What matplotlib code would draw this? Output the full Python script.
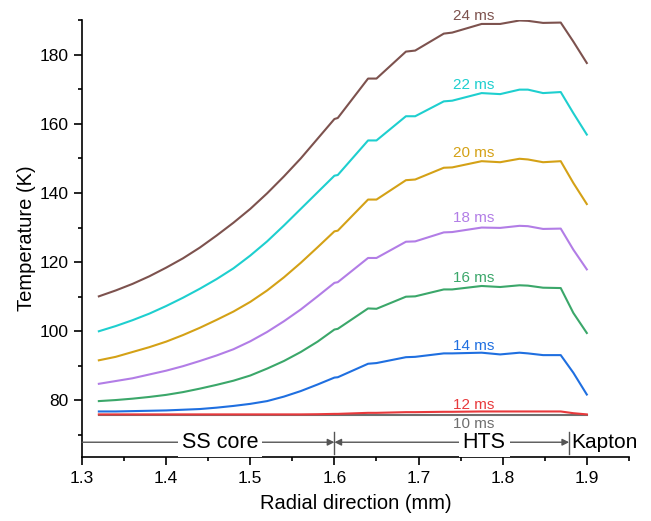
import matplotlib
matplotlib.use('Agg')
import matplotlib.pyplot as plt
from matplotlib.ticker import MultipleLocator

plt.rcParams['font.family'] = ['Liberation Sans', 'DejaVu Sans']

# radial positions (mm)
radius = [1.32, 1.34, 1.36, 1.38, 1.40, 1.42, 1.44, 1.46, 1.48, 1.50, 1.52, 1.54,
          1.56, 1.58, 1.60,
          1.604, 1.64, 1.65, 1.685, 1.696, 1.73, 1.74, 1.775, 1.797, 1.82, 1.83,
          1.848, 1.869, 1.884, 1.9]

# temperature (K) for each time step
t24 = [110.1, 111.8, 113.7, 115.9, 118.4, 121.1, 124.2, 127.7, 131.4, 135.4, 139.9,
       144.8, 150.0, 155.7, 161.4,
       161.7, 173.1, 173.1, 180.9, 181.2, 186.1, 186.4, 188.9, 188.9, 189.9, 189.8,
       189.2, 189.3, 183.8, 177.6]
t22 = [100.0, 101.5, 103.2, 105.1, 107.3, 109.7, 112.3, 115.1, 118.2, 121.9, 126.0,
       130.6, 135.4, 140.2, 145.0,
       145.2, 155.2, 155.2, 162.2, 162.2, 166.5, 166.7, 168.9, 168.6, 169.9, 169.9,
       168.9, 169.2, 163.1, 156.9]
t20 = [91.6, 92.6, 94.0, 95.4, 97.0, 98.9, 101.0, 103.3, 105.7, 108.5, 111.8,
       115.6, 119.8, 124.3, 128.9,
       129.1, 138.1, 138.1, 143.7, 143.9, 147.3, 147.4, 149.2, 148.9, 149.9, 149.7,
       148.9, 149.2, 142.9, 136.8]
t18 = [84.8, 85.6, 86.4, 87.5, 88.6, 89.9, 91.4, 93.0, 94.8, 97.1, 99.8,
       102.9, 106.3, 110.1, 114.0,
       114.2, 121.2, 121.2, 125.9, 126.0, 128.6, 128.7, 130.0, 129.9, 130.5, 130.4,
       129.6, 129.7, 123.6, 117.9]
t16 = [79.8, 80.1, 80.5, 81.0, 81.6, 82.4, 83.4, 84.5, 85.7, 87.2, 89.2,
       91.4, 94.0, 97.0, 100.5,
       100.7, 106.6, 106.5, 110.0, 110.1, 112.1, 112.1, 113.1, 112.8, 113.3, 113.2,
       112.6, 112.5, 105.3, 99.5]
t14 = [76.8, 76.8, 76.9, 77.0, 77.1, 77.3, 77.5, 77.9, 78.4, 79.0, 79.8,
       81.1, 82.7, 84.6, 86.6,
       86.7, 90.6, 90.8, 92.5, 92.6, 93.6, 93.6, 93.8, 93.3, 93.8, 93.6,
       93.1, 93.1, 88.0, 81.7]
t12 = [75.95, 75.95, 75.95, 75.95, 75.95, 75.95, 75.95, 75.95, 75.95, 75.95, 75.95,
       75.95, 75.95, 76.0, 76.1,
       76.1, 76.4, 76.4, 76.6, 76.6, 76.7, 76.7, 76.8, 76.8, 76.8, 76.8,
       76.8, 76.8, 76.3, 75.95]
t10 = [75.9] * len(radius)

labels = ['10 ms', '12 ms', '14 ms', '16 ms', '18 ms', '20 ms', '22 ms', '24 ms']
colors = ['#6e6e6e', '#e8393c', '#1f6fe0', '#3ba76a', '#b27de6', '#d4a116',
          '#1ecfcf', '#7d524e']
label_y = [73.1, 78.8, 95.7, 115.5, 132.8, 151.6, 171.3, 191.1]
label_x = 1.765

fig = plt.figure(figsize=(6.51, 5.21), dpi=100)
ax = fig.add_axes([0.126, 0.122, 0.840, 0.840])

series = [t10, t12, t14, t16, t18, t20, t22, t24]
for temps, c, lab, ly in zip(series, colors, labels, label_y):
    ax.plot(radius, temps, color=c, lw=1.5)
    ax.text(label_x, ly, lab, color=c, fontsize=11, ha='center', va='center',
            clip_on=False)

# region markers
ya = 67.9
ax.annotate('', xy=(1.6, ya), xytext=(1.3, ya),
            arrowprops=dict(arrowstyle='-|>', color='#555555', lw=1,
                            mutation_scale=10, shrinkA=0, shrinkB=0))
ax.annotate('', xy=(1.6, ya), xytext=(1.879, ya),
            arrowprops=dict(arrowstyle='<|-|>', color='#555555', lw=1,
                            mutation_scale=10, shrinkA=0, shrinkB=0))
ax.plot([1.6, 1.6], [64.5, 71.0], color='#555555', lw=1)
ax.plot([1.879, 1.879], [64.5, 71.0], color='#555555', lw=1)
box = dict(facecolor='white', edgecolor='none', pad=3)
ax.text(1.464, ya, 'SS core', fontsize=15.5, ha='center', va='center', bbox=box)
ax.text(1.778, ya, 'HTS', fontsize=15.5, ha='center', va='center', bbox=box)
ax.text(1.881, ya, 'Kapton', fontsize=15, ha='left', va='center', clip_on=False)

ax.set_xlim(1.3, 1.95)
ax.set_ylim(63.5, 190.1)
ax.xaxis.set_major_locator(MultipleLocator(0.1))
ax.xaxis.set_minor_locator(MultipleLocator(0.05))
ax.yaxis.set_major_locator(MultipleLocator(20))
ax.yaxis.set_minor_locator(MultipleLocator(10))
ax.spines['top'].set_visible(False)
ax.spines['right'].set_visible(False)
for s in ['left', 'bottom']:
    ax.spines[s].set_linewidth(1.2)
ax.tick_params(which='major', direction='out', length=6, width=1.2, labelsize=12.5)
ax.tick_params(which='minor', direction='out', length=3, width=1.2)
ax.set_xlabel('Radial direction (mm)', fontsize=14.5, labelpad=6)
ax.set_ylabel('Temperature (K)', fontsize=14.5, labelpad=3)

fig.savefig('out.png', dpi=100)
